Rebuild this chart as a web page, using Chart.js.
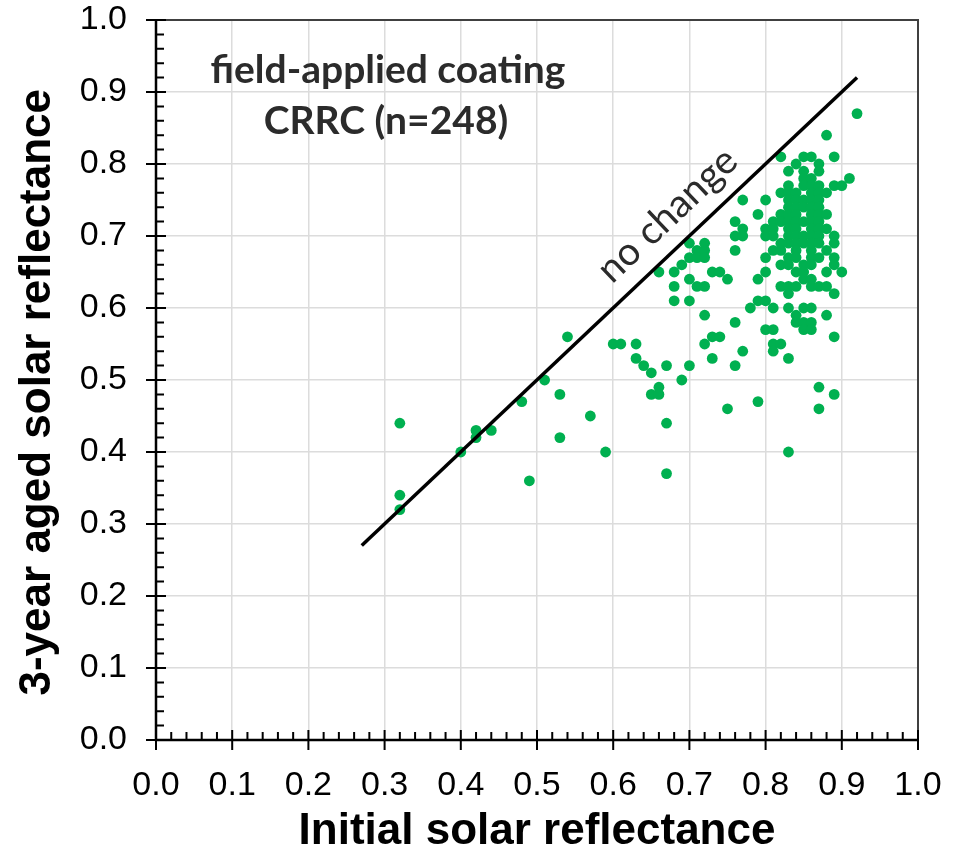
<!DOCTYPE html>
<html>
<head>
<meta charset="utf-8">
<script src="https://cdn.jsdelivr.net/npm/chart.js@4.4.1/dist/chart.umd.min.js"></script>
<style>
  html, body { margin: 0; padding: 0; background: #fff; }
  #chart { display: block; }
</style>
</head>
<body>
<canvas id="chart" width="955" height="852"></canvas>
<script>
// initial solar reflectance (x) and 3-year aged value (y)
const initialSR = [
  // low end
  0.32, 0.32, 0.32, 0.40, 0.42, 0.42, 0.44, 0.48, 0.49, 0.51, 0.53, 0.53, 0.54, 0.57, 0.59,
  // middle, lower part
  0.60, 0.61, 0.63, 0.63, 0.64, 0.65, 0.65, 0.66, 0.66, 0.67, 0.67, 0.67, 0.69, 0.70, 0.72,
  0.73, 0.74, 0.73, 0.76, 0.77, 0.75,
  // middle, upper part
  0.66, 0.68, 0.68, 0.68, 0.69, 0.70, 0.70, 0.70, 0.70, 0.71, 0.71, 0.71, 0.72, 0.72, 0.72,
  0.72, 0.72, 0.73, 0.74, 0.75, 0.76, 0.76, 0.76, 0.76, 0.77, 0.77, 0.77, 0.78,
  // dense cluster, row by row from the top
  0.82, 0.85, 0.86, 0.89,
  0.84, 0.87,
  0.83, 0.85, 0.87,
  0.85, 0.86, 0.91,
  0.83, 0.85, 0.86, 0.87, 0.89, 0.90,
  0.82, 0.83, 0.84, 0.86, 0.87, 0.88,
  0.80, 0.83, 0.84, 0.85, 0.86, 0.87,
  0.83, 0.84, 0.85, 0.86, 0.87,
  0.79, 0.82, 0.83, 0.84, 0.86, 0.87, 0.88,
  0.81, 0.82, 0.83, 0.84, 0.85, 0.86, 0.87,
  0.80, 0.81, 0.83, 0.84, 0.86, 0.87, 0.88,
  0.80, 0.81, 0.83, 0.84, 0.85, 0.86, 0.87, 0.89,
  0.82, 0.83, 0.84, 0.85, 0.86, 0.87, 0.89,
  0.81, 0.82, 0.84, 0.86, 0.88,
  0.80, 0.83, 0.84, 0.86, 0.87, 0.89,
  0.82, 0.83, 0.85, 0.86, 0.89,
  0.80, 0.84, 0.85, 0.88, 0.90,
  0.79, 0.85, 0.86,
  0.82, 0.83, 0.84, 0.86, 0.87, 0.88,
  0.83, 0.89,
  0.79, 0.80,
  0.81, 0.83, 0.85, 0.86,
  0.84, 0.88,
  0.84, 0.85, 0.86,
  0.80, 0.81, 0.85, 0.86,
  0.89,
  0.81, 0.82,
  0.81,
  0.83,
  // scattered below / above the cluster
  0.87, 0.89, 0.79, 0.87, 0.83, 0.88, 0.92
];
const agedSR = [
  0.44, 0.34, 0.32, 0.40, 0.43, 0.42, 0.43, 0.47, 0.36, 0.50, 0.48, 0.42, 0.56, 0.45, 0.40,
  0.55, 0.55, 0.55, 0.53, 0.52, 0.51, 0.48, 0.48, 0.49, 0.52, 0.44, 0.37, 0.50, 0.52, 0.55,
  0.56, 0.56, 0.53, 0.52, 0.54, 0.46,
  0.65, 0.65, 0.63, 0.61, 0.66, 0.69, 0.67, 0.64, 0.61, 0.68, 0.67, 0.63, 0.69, 0.68, 0.67,
  0.63, 0.59, 0.65, 0.65, 0.64, 0.72, 0.70, 0.68, 0.58, 0.75, 0.71, 0.70, 0.60,
  0.81, 0.81, 0.81, 0.81,
  0.80, 0.80,
  0.79, 0.79, 0.79,
  0.78, 0.78, 0.78,
  0.77, 0.77, 0.77, 0.77, 0.77, 0.77,
  0.76, 0.76, 0.76, 0.76, 0.76, 0.76,
  0.75, 0.75, 0.75, 0.75, 0.75, 0.75,
  0.74, 0.74, 0.74, 0.74, 0.74,
  0.73, 0.73, 0.73, 0.73, 0.73, 0.73, 0.73,
  0.72, 0.72, 0.72, 0.72, 0.72, 0.72, 0.72,
  0.71, 0.71, 0.71, 0.71, 0.71, 0.71, 0.71,
  0.70, 0.70, 0.70, 0.70, 0.70, 0.70, 0.70, 0.70,
  0.69, 0.69, 0.69, 0.69, 0.69, 0.69, 0.69,
  0.68, 0.68, 0.68, 0.68, 0.68,
  0.67, 0.67, 0.67, 0.67, 0.67, 0.67,
  0.66, 0.66, 0.66, 0.66, 0.66,
  0.65, 0.65, 0.65, 0.65, 0.65,
  0.64, 0.64, 0.64,
  0.63, 0.63, 0.63, 0.63, 0.63, 0.63,
  0.62, 0.62,
  0.61, 0.61,
  0.60, 0.60, 0.60, 0.60,
  0.59, 0.59,
  0.58, 0.58, 0.58,
  0.57, 0.57, 0.57, 0.57,
  0.56,
  0.55, 0.55,
  0.54,
  0.53,
  0.49, 0.48, 0.47, 0.46, 0.40, 0.84, 0.87
];

// "no change" 1:1 line
const lineX = [0.27, 0.92];
const lineY = [0.27, 0.92];

const majorTicks = [0, 0.1, 0.2, 0.3, 0.4, 0.5, 0.6, 0.7, 0.8, 0.9, 1.0];
const titleLines = ['field-applied coating', 'CRRC (n=248)'];
const lineLabel = 'no change';

const points = initialSR.map((x, i) => ({ x: x, y: agedSR[i] }));
const linePts = lineX.map((x, i) => ({ x: x, y: lineY[i] }));

// tick marks, frame and texts inside the plot
const decorations = {
  id: 'decorations',
  afterDraw(chart) {
    const { ctx, chartArea: a, scales: { x, y } } = chart;
    ctx.save();

    // top / right frame
    ctx.strokeStyle = '#404040';
    ctx.lineWidth = 2;
    ctx.beginPath();
    ctx.moveTo(a.left, a.top);
    ctx.lineTo(a.right, a.top);
    ctx.lineTo(a.right, a.bottom);
    ctx.stroke();

    // axis lines
    ctx.strokeStyle = '#000';
    ctx.lineWidth = 2.5;
    ctx.beginPath();
    ctx.moveTo(a.left, a.top);
    ctx.lineTo(a.left, a.bottom);
    ctx.lineTo(a.right, a.bottom);
    ctx.stroke();

    // minor ticks (inside) and major ticks (crossing)
    ctx.lineWidth = 2;
    ctx.beginPath();
    for (let i = 0; i <= 50; i++) {
      const v = i / 50;
      const px = x.getPixelForValue(v);
      const py = y.getPixelForValue(v);
      if (i % 5 === 0) {
        ctx.moveTo(px, a.bottom - 10); ctx.lineTo(px, a.bottom + 10);
        ctx.moveTo(a.left - 10, py); ctx.lineTo(a.left + 10, py);
      } else {
        ctx.moveTo(px, a.bottom); ctx.lineTo(px, a.bottom - 8);
        ctx.moveTo(a.left, py); ctx.lineTo(a.left + 8, py);
      }
    }
    ctx.stroke();

    // title inside the plot
    ctx.fillStyle = '#2b2b2b';
    ctx.font = 'bold 39px Lato';
    ctx.textAlign = 'center';
    ctx.textBaseline = 'middle';
    ctx.fillText(titleLines[0], 388, 70);
    ctx.fillText(titleLines[1], 386, 121);

    // label along the 1:1 line
    const lx = x.getPixelForValue(0.671);
    const ly = y.getPixelForValue(0.729);
    const ang = Math.atan2(y.getPixelForValue(lineY[1]) - y.getPixelForValue(lineY[0]),
                           x.getPixelForValue(lineX[1]) - x.getPixelForValue(lineX[0]));
    ctx.translate(lx, ly);
    ctx.rotate(ang);
    ctx.font = '39px Lato';
    ctx.fillText(lineLabel, 0, 0);
    ctx.restore();
  }
};

const ctx = document.getElementById('chart').getContext('2d');
new Chart(ctx, {
  type: 'scatter',
  data: {
    datasets: [{
      type: 'line',
      data: linePts,
      borderColor: '#000',
      borderWidth: 3.5,
      pointRadius: 0,
      fill: false
    }, {
      data: points,
      backgroundColor: '#00b050',
      borderWidth: 0,
      pointRadius: 5.4,
      pointHoverRadius: 5.4
    }]
  },
  options: {
    responsive: false,
    animation: false,
    layout: { autoPadding: false, padding: { top: 20, right: 37, left: 0, bottom: 0 } },
    plugins: {
      legend: { display: false },
      tooltip: { enabled: false }
    },
    scales: {
      x: {
        type: 'linear',
        min: 0,
        max: 1,
        afterFit: s => { s.height = 112; s.paddingLeft = 0; s.paddingRight = 0; },
        afterBuildTicks: s => { s.ticks = majorTicks.map(v => ({ value: v })); },
        grid: { color: '#dcdcdc', lineWidth: 1.5, drawTicks: false },
        border: { display: false },
        ticks: {
          padding: 25,
          color: '#000',
          font: { family: 'Liberation Sans', size: 34 },
          maxRotation: 0,
          callback: v => v.toFixed(1)
        },
        title: {
          display: true,
          text: 'Initial solar reflectance',
          color: '#000',
          font: { family: 'Liberation Sans', size: 44, weight: 'bold', lineHeight: 1 },
          padding: { top: 0, bottom: -2 }
        }
      },
      y: {
        type: 'linear',
        min: 0,
        max: 1,
        afterFit: s => { s.width = 156; s.paddingTop = 0; s.paddingBottom = 0; },
        afterBuildTicks: s => { s.ticks = majorTicks.map(v => ({ value: v })); },
        grid: { color: '#dcdcdc', lineWidth: 1.5, drawTicks: false },
        border: { display: false },
        ticks: {
          padding: 29,
          color: '#000',
          font: { family: 'Liberation Sans', size: 34 },
          callback: v => v.toFixed(1)
        },
        title: {
          display: true,
          text: '3-year aged solar reflectance\u00a0\u00a0',
          color: '#000',
          font: { family: 'Liberation Sans', size: 44, weight: 'bold', lineHeight: 1 },
          padding: { top: 16, bottom: 0 }
        }
      }
    }
  },
  plugins: [decorations]
});
</script>
</body>
</html>
